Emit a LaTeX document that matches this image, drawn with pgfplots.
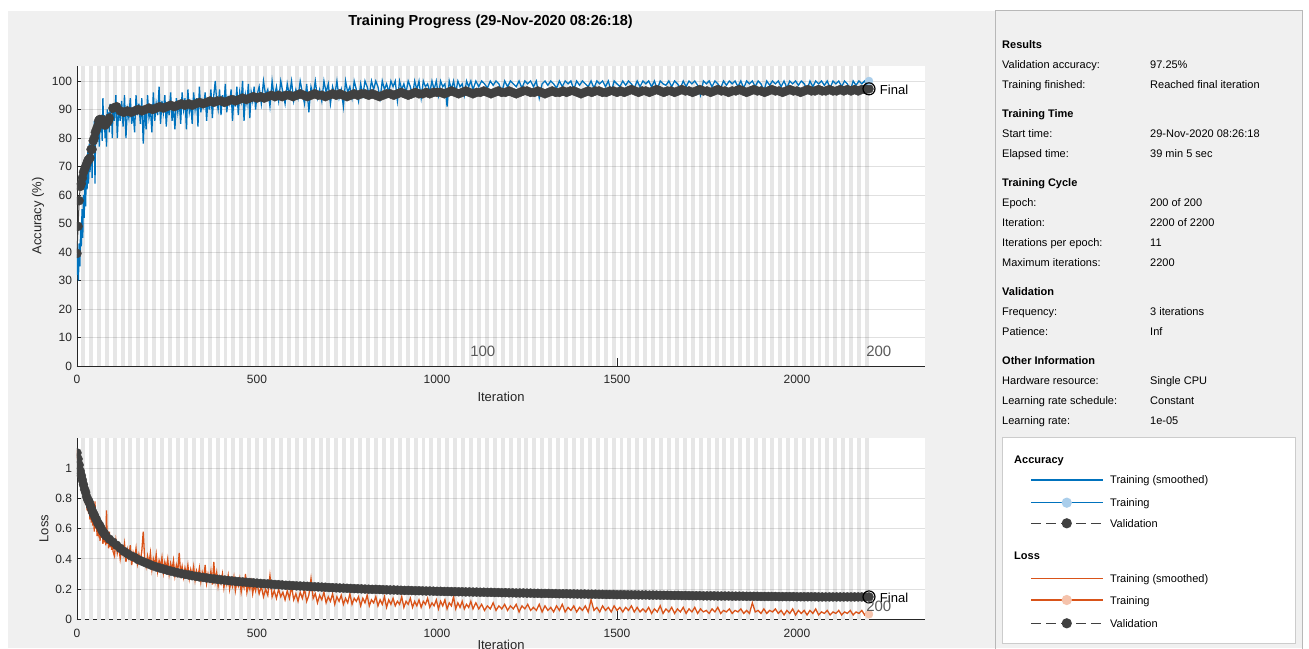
\documentclass[border=0pt]{standalone}
\usepackage{fontspec}
\setmainfont{Liberation Sans}
\usepackage{pgfplots}
\pgfplotsset{compat=1.18}
\definecolor{mblue}{RGB}{0,114,189}
\definecolor{morange}{RGB}{217,83,25}
\definecolor{vgray}{RGB}{64,64,64}
\definecolor{lblue}{RGB}{170,206,235}
\definecolor{lorange}{RGB}{245,195,172}
\definecolor{stripe}{RGB}{230,230,230}
\definecolor{panel}{RGB}{240,240,240}
\definecolor{axc}{RGB}{38,38,38}
\definecolor{epochc}{RGB}{90,90,90}
\tikzset{gridc/.style={black, opacity=0.12, line width=0.8pt}}
\pgfplotsset{
  mtl/.style={
    scale only axis, width=848pt,
    xmin=0, xmax=2355.6,
    axis x line*=bottom, axis y line*=left,
    axis line style={axc, line width=0.8pt, -},
    tick align=inside, major tick length=8pt,
    tick style={axc, line width=0.8pt},
    xtick={0,500,1000,1500,2000},
    ticklabel style={font=\fontsize{12}{14}\selectfont, text=axc},
    xticklabel style={yshift=-6pt},
    yticklabel style={xshift=-1.5pt},
    /pgf/number format/assume math mode=true,
    /pgf/number format/1000 sep={},
    axis background/.style={fill=white},
    label style={font=\fontsize{13}{15}\selectfont, text=axc},
    clip marker paths=true,
  },
}
\begin{document}
\begin{tikzpicture}[x=1pt,y=1pt]
\fill[white] (0pt,0pt) rectangle (1309pt,648pt);
\fill[panel] (8pt,0pt) rectangle (1302pt,637pt);
\draw[black!28, line width=1pt] (995pt,-2pt) -- (995pt,637pt) -- (1302pt,637pt) -- (1302pt,-2pt);
\fill[white] (1002pt,4.7pt) rectangle (1295pt,211pt);
\draw[black!20, line width=0.8pt] (1002pt,4.7pt) rectangle (1295pt,211pt);

\node[font=\fontsize{14.5}{16}\selectfont\bfseries, text=black] at (490.5pt,626pt) {Training Progress (29-Nov-2020 08:26:18)};

% ---------- Accuracy axis ----------
\begin{axis}[mtl, at={(77pt,282pt)}, anchor=south west, height=300pt,
  ymin=0, ymax=105.26, ytick={0,10,20,30,40,50,60,70,80,90,100},
  xlabel={Iteration}, ylabel={Accuracy (\%)},
  xlabel style={at={(axis description cs:0.5,-0.1033)}, anchor=center},
  ylabel style={at={(axis description cs:-0.046,0.5)}, anchor=center}]
\pgfplotsinvokeforeach{0,...,99}{
  \fill[stripe] (axis cs:{22*#1+11},0) rectangle (axis cs:{22*#1+22},105.26);
}
\pgfplotsinvokeforeach{10,20,30,40,50,60,70,80,90,100}{
  \draw[gridc] (axis cs:0,#1) -- (axis cs:2355.6,#1);
}
\node[anchor=south west, inner sep=0, text=epochc, font=\fontsize{15}{15}\selectfont] at (axis cs:1092,3.2) {100};
\node[anchor=south west, inner sep=0, text=epochc, font=\fontsize{15}{15}\selectfont] at (axis cs:2192,3.2) {200};
% training accuracy
\addplot[mblue, line width=1.3pt] coordinates {
(0,32)(2,40)(4,30)(6,43)(8,35)(10,48)(12,42)(14,55)(16,45)(18,60)(20,52)(22,65)(24,56)(26,70)(28,62)(30,75)(32,64)(34,78)(36,68)(38,72)(40,80)(42,66)(44,82)(46,75)(48,86)(50,64)(52,85)(54,78)(56,87)(58,80)(60,84)(62,77)(64,88)(66,82)(68,86)(70,79)(72,94)(74,83)(76,88)(78,80)(80,87)(82,77)(84,90)(86,84)(88,89)(90,82)(92,92)(94,85)(96,88)(98,80)(100,91)
(104,86)(108,95)(112,80)(116,91)(120,86)(124,93)(128,84)(132,95)(136,80)(140,90)(144,87)(148,94)(152,85)(156,89)(160,82)(164,95)(168,88)(172,92)(176,85)(180,94)(184,78)(188,91)(192,83)(196,95)(200,87)(204,90)(208,82)(212,96)(216,86)(220,92)(224,88)(228,98)(232,85)(236,93)(240,89)(244,95)(248,84)(252,92)(256,88)(260,96)(264,86)(268,91)(272,83)(276,94)(280,89)(284,93)(288,85)(292,96)(296,90)(300,94)(304,83)(308,97)(312,89)(316,92)(320,85)(324,96)(328,90)(332,94)(336,84)(340,98)(344,89)(348,93)(352,91)(356,96)(360,86)(364,94)(368,90)(372,97)(376,87)(380,95)(384,100)(388,93)(392,90)(396,97)(400,88)(404,95)(408,91)(412,99)(416,89)(420,94)(424,92)(428,97)(432,86)(436,95)(440,91)(444,98)(448,88)(452,96)(456,93)(460,100)(464,86)(468,95)(472,92)(476,99)(480,87)(484,96)(488,93)(492,98)(496,90)(500,95)
(506,98)(512,92)(518,100)(524,95)(530,97)(536,91)(542,100)(548,94)(554,98)(560,93)(566,100)(572,96)(578,92)(584,99)(590,95)(596,100)(602,93)(608,97)(614,94)(620,100)(626,96)(632,92)(638,99)(644,89)(650,98)(656,95)(662,100)(668,94)(674,97)(680,93)(686,100)(692,96)(698,99)(704,92)(710,98)(716,95)(722,100)(728,94)(734,97)(740,91)(746,100)(752,96)(758,98)(764,94)(770,100)(776,97)(782,93)(788,99)(794,95)(800,100)
(806,98)(812,95)(818,100)(824,97)(830,100)(836,98)(842,94)(848,100)(854,97)(860,99)(866,96)(872,100)(878,98)(884,100)(890,93)(896,100)(902,97)(908,99)(914,96)(920,100)(926,98)(932,95)(938,100)(944,97)(950,100)(956,94)(962,100)(968,98)(974,99)(980,96)(986,100)(992,97)(998,100)(1004,95)(1010,100)(1016,98)(1022,99)(1028,91)(1034,100)(1040,97)(1046,100)(1052,96)(1058,100)(1064,98)(1070,99)(1076,95)(1082,100)(1088,98)(1094,100)(1100,97)
(1108,100)(1116,98)(1124,100)(1132,99)(1140,97.5)(1148,100)(1156,98.5)(1164,100)(1172,99)(1180,96)(1188,100)(1196,98)(1204,100)(1212,99)(1220,98)(1228,100)(1236,97.5)(1244,100)(1252,99)(1260,100)(1268,98)(1276,100)(1284,94)(1292,99)(1300,100)(1308,98.5)(1316,100)(1324,99)(1332,97.5)(1340,100)(1348,98)(1356,100)(1364,99)(1372,100)(1380,97)(1388,100)(1396,98.5)(1404,100)(1412,99)(1420,98)(1428,100)(1436,97.5)(1444,100)(1452,99)(1460,100)(1468,98)(1476,100)(1484,96)(1492,100)(1500,99)(1508,98)(1516,100)(1524,98.5)(1532,100)(1540,99)(1548,97.5)(1556,100)(1564,98)(1572,100)(1580,99)(1588,100)(1596,98)(1604,100)(1612,97)(1620,100)(1628,99)(1636,98.5)(1644,100)(1652,98)(1660,100)(1668,99)(1676,97.5)(1684,100)(1692,98)(1700,100)(1708,99)(1716,100)(1724,98.5)(1732,95)(1740,100)(1748,99)(1756,100)(1764,98)(1772,100)(1780,99)(1788,97.5)(1796,100)(1804,98.5)(1812,100)(1820,99)(1828,100)(1836,98)(1844,100)(1852,97.5)(1860,100)(1868,99)(1876,100)(1884,98)(1892,100)(1900,99)(1908,96.5)(1916,100)(1924,98.5)(1932,100)(1940,99)(1948,100)(1956,98)(1964,100)(1972,97.5)(1980,100)(1988,99)(1996,100)(2004,98.5)(2012,100)(2020,99)(2028,97)(2036,100)(2044,98)(2052,100)(2060,99)(2068,100)(2076,98.5)(2084,100)(2092,97.5)(2100,100)(2108,99)(2116,100)(2124,98)(2132,100)(2140,99)(2148,96.5)(2156,100)(2164,98.5)(2172,100)(2180,99)(2188,100)(2196,98)(2200,100)
};
% validation accuracy
\addplot[vgray, line width=1pt, mark=*, mark size=4.5pt, mark options={fill=vgray, draw=vgray, line width=0.4pt}] coordinates {
(0,39.5)(3,49)(6,58)(9,63)(12,64)(15,66)(18,68)(21,69)(24,70)(27,71)(30,72)(33,72.5)(36,73)(39,76)(42,76)(45,79)(48,80)(51,82)(54,83)(57,84)(60,86)(63,86.5)(66,86)(69,86.5)(72,86)(75,85)(78,84.5)(81,85)(84,85.5)(87,86)(90,87)
(100,90.5)(110,91)(120,89.5)(130,89)(140,89.5)(150,89)(160,89.5)(170,90)(180,89.5)(190,90)(200,90.5)(210,90)(220,90.5)(230,91)(240,90.5)(250,91)(260,91.5)(270,91)(280,91.5)(290,92)(300,91.5)(310,92)(320,91.5)(330,92)(340,92.5)(350,92)(360,92.5)(370,93)(380,92.5)(390,93)(400,93)(410,92.5)(420,93)(430,93.5)(440,93)(450,93.5)(460,94)(470,93.5)(480,94)(490,94.5)(500,94)(510,94.5)(520,94)(530,94.5)(540,95)(550,94.5)(560,95)(570,94.5)(580,95)(590,95)(600,94.5)(610,95)(620,95.5)(630,95)(640,94.5)(650,95)(660,95.5)(670,95)(680,95)(690,94.5)(700,95)(710,95.5)(720,95)(730,95.5)(740,95)(750,94.5)(760,95)(770,95.5)(780,95)(790,95.5)(800,95.5)(810,95)(820,95.5)(830,95)(840,94.5)(850,95)(860,95.5)(870,95.5)(880,95)(890,95.5)(900,96)(910,95.5)(920,95)(930,95.5)(940,96)(950,95.5)(960,95.5)(970,96)(980,95.5)(990,96)(1000,96)
(1010,96)(1020,95.5)(1030,96)(1040,96.5)(1050,96)(1060,95.5)(1070,96)(1080,96.5)(1090,96)(1100,95.5)(1110,96)(1120,96)(1130,96.5)(1140,96)(1150,95.5)(1160,96)(1170,96.5)(1180,96)(1190,96)(1200,96.5)(1210,96)(1220,95.5)(1230,96)(1240,96.5)(1250,96.5)(1260,96)(1270,96)(1280,96.5)(1290,96)(1300,95.5)(1310,96)(1320,96.5)(1330,96)(1340,96)(1350,96.5)(1360,96)(1370,96.5)(1380,96.5)(1390,96)(1400,95.5)(1410,96)(1420,96.5)(1430,96)(1440,96.5)(1450,96.5)(1460,96)(1470,96)(1480,96.5)(1490,96.5)(1500,96)(1510,96.5)(1520,96)(1530,96.5)(1540,97)(1550,96.5)(1560,96)(1570,96.5)(1580,96.5)(1590,96)(1600,96.5)(1610,97)(1620,96.5)(1630,96)(1640,96.5)(1650,96.5)(1660,96)(1670,96.5)(1680,97)(1690,96.5)(1700,96.5)(1710,96)(1720,96.5)(1730,97)(1740,96.5)(1750,96.5)(1760,96)(1770,96.5)(1780,97)(1790,96.5)(1800,96.5)(1810,96)(1820,96.5)(1830,96.5)(1840,97)(1850,96.5)(1860,96)(1870,96.5)(1880,97)(1890,96.5)(1900,96.5)(1910,96)(1920,96.5)(1930,97)(1940,96.5)(1950,96.5)(1960,96)(1970,96.5)(1980,97)(1990,96.5)(2000,96.5)(2010,96)(2020,96.5)(2030,97)(2040,96.5)(2050,96.5)(2060,97)(2070,96.5)(2080,96.5)(2090,97)(2100,96.5)(2110,96.5)(2120,97)(2130,96.5)(2140,97)(2150,96.5)(2160,97)(2170,96.5)(2180,97)(2190,97)(2200,97.25)
};
\addplot[only marks, mark=*, mark size=4pt, mark options={fill=lblue, draw=lblue}] coordinates {(2200,100)};
\addplot[only marks, mark=o, mark size=6pt, mark options={draw=black, line width=1.2pt}] coordinates {(2200,97.25)};
\node[anchor=west, inner sep=0, font=\fontsize{13}{15}\selectfont, text=black] at (axis cs:2230,97.0) {Final};
\end{axis}

% ---------- Loss axis ----------
\begin{axis}[mtl, at={(77pt,28.5pt)}, anchor=south west, height=181.8pt,
  ymin=0, ymax=1.2, ytick={0,0.2,0.4,0.6,0.8,1},
  xlabel={Iteration}, ylabel={Loss},
  xlabel style={at={(axis description cs:0.5,-0.14)}, anchor=center},
  ylabel style={at={(axis description cs:-0.0389,0.5)}, anchor=center}]
\pgfplotsinvokeforeach{0,...,99}{
  \fill[stripe] (axis cs:{22*#1+11},0) rectangle (axis cs:{22*#1+22},1.2);
}
\pgfplotsinvokeforeach{0.2,0.4,0.6,0.8,1}{
  \draw[gridc] (axis cs:0,#1) -- (axis cs:2355.6,#1);
}
% training loss
\addplot[morange, line width=1.3pt] coordinates {
(0,1.12)(2,1.05)(4,1.1)(6,0.98)(8,1.02)(10,0.95)(12,0.92)(14,0.96)(16,0.85)(18,0.88)(20,0.8)(22,0.84)(24,0.76)(26,0.8)(28,0.72)(30,0.78)(32,0.7)(34,0.74)(36,0.66)(38,0.72)(40,0.64)(42,0.7)(44,0.62)(46,0.67)(48,0.58)(50,0.78)(52,0.6)(54,0.63)(56,0.55)(58,0.62)(60,0.57)(62,0.6)(64,0.52)(66,0.58)(68,0.54)(70,0.62)(72,0.5)(74,0.57)(76,0.51)(78,0.55)(80,0.49)(82,0.72)(84,0.5)(86,0.55)(88,0.47)(90,0.58)(92,0.48)(94,0.52)(96,0.46)(98,0.54)(100,0.45)
(104,0.42)(108,0.52)(112,0.44)(116,0.49)(120,0.4)(124,0.47)(128,0.43)(132,0.5)(136,0.38)(140,0.46)(144,0.41)(148,0.49)(152,0.36)(156,0.44)(160,0.4)(164,0.47)(168,0.37)(172,0.43)(176,0.39)(180,0.45)(184,0.58)(188,0.4)(192,0.35)(196,0.42)(200,0.37)(204,0.44)(208,0.33)(212,0.4)(216,0.36)(220,0.43)(224,0.32)(228,0.39)(232,0.35)(236,0.41)(240,0.31)(244,0.38)(248,0.34)(252,0.4)(256,0.3)(260,0.37)(264,0.33)(268,0.39)(272,0.29)(276,0.36)(280,0.32)(284,0.44)(288,0.3)(292,0.35)(296,0.28)(300,0.34)(304,0.3)(308,0.36)(312,0.27)(316,0.33)(320,0.29)(324,0.35)(328,0.26)(332,0.32)(336,0.28)(340,0.34)(344,0.25)(348,0.31)(352,0.27)(356,0.36)(360,0.24)(364,0.3)(368,0.26)(372,0.32)(376,0.23)(380,0.38)(384,0.25)(388,0.31)(392,0.22)(396,0.28)(400,0.24)(404,0.3)(408,0.21)(412,0.27)(416,0.23)(420,0.29)(424,0.2)(428,0.26)(432,0.22)(436,0.28)(440,0.19)(444,0.25)(448,0.22)(452,0.27)(456,0.18)(460,0.24)(464,0.21)(468,0.3)(472,0.18)(476,0.23)(480,0.2)(484,0.25)(488,0.17)(492,0.23)(496,0.19)(500,0.24)
(506,0.17)(512,0.22)(518,0.15)(524,0.2)(530,0.16)(536,0.29)(542,0.15)(548,0.19)(554,0.14)(560,0.2)(566,0.15)(572,0.18)(578,0.13)(584,0.19)(590,0.14)(596,0.22)(602,0.13)(608,0.17)(614,0.12)(620,0.18)(626,0.14)(632,0.2)(638,0.12)(644,0.16)(650,0.27)(656,0.14)(662,0.17)(668,0.11)(674,0.16)(680,0.13)(686,0.18)(692,0.11)(698,0.15)(704,0.12)(710,0.17)(716,0.1)(722,0.15)(728,0.12)(734,0.16)(740,0.1)(746,0.14)(752,0.11)(758,0.17)(764,0.1)(770,0.14)(776,0.12)(782,0.15)(788,0.09)(794,0.14)(800,0.11)(806,0.16)(812,0.09)(818,0.13)(824,0.11)(830,0.15)(836,0.09)(842,0.13)(848,0.1)(854,0.15)(860,0.08)(866,0.13)(872,0.1)(878,0.14)(884,0.09)(890,0.12)(896,0.1)(902,0.15)(908,0.08)(914,0.12)(920,0.1)(926,0.14)(932,0.08)(938,0.12)(944,0.09)(950,0.13)(956,0.08)(962,0.12)(968,0.1)(974,0.14)(980,0.08)(986,0.11)(992,0.09)(998,0.13)(1004,0.07)(1010,0.12)(1016,0.09)(1022,0.13)(1028,0.07)(1034,0.11)(1040,0.09)(1046,0.15)(1052,0.07)(1058,0.11)(1064,0.08)(1070,0.12)(1076,0.07)(1082,0.1)(1088,0.08)(1094,0.12)(1100,0.07)
(1108,0.11)(1116,0.07)(1124,0.1)(1132,0.06)(1140,0.09)(1148,0.07)(1156,0.11)(1164,0.06)(1172,0.09)(1180,0.07)(1188,0.1)(1196,0.06)(1204,0.09)(1212,0.07)(1220,0.1)(1228,0.05)(1236,0.09)(1244,0.07)(1252,0.1)(1260,0.06)(1268,0.08)(1276,0.06)(1284,0.1)(1292,0.05)(1300,0.09)(1308,0.06)(1316,0.08)(1324,0.05)(1332,0.09)(1340,0.06)(1348,0.1)(1356,0.05)(1364,0.08)(1372,0.06)(1380,0.09)(1388,0.05)(1396,0.08)(1404,0.06)(1412,0.09)(1420,0.05)(1428,0.13)(1436,0.06)(1444,0.08)(1452,0.05)(1460,0.09)(1468,0.06)(1476,0.08)(1484,0.05)(1492,0.09)(1500,0.06)(1508,0.08)(1516,0.05)(1524,0.08)(1532,0.06)(1540,0.09)(1548,0.05)(1556,0.08)(1564,0.05)(1572,0.07)(1580,0.05)(1588,0.08)(1596,0.04)(1604,0.07)(1612,0.05)(1620,0.09)(1628,0.04)(1636,0.07)(1644,0.05)(1652,0.08)(1660,0.04)(1668,0.07)(1676,0.05)(1684,0.08)(1692,0.04)(1700,0.07)(1708,0.05)(1716,0.08)(1724,0.04)(1732,0.07)(1740,0.05)(1748,0.06)(1756,0.04)(1764,0.07)(1772,0.05)(1780,0.08)(1788,0.04)(1796,0.06)(1804,0.05)(1812,0.07)(1820,0.04)(1828,0.06)(1836,0.05)(1844,0.07)(1852,0.04)(1860,0.06)(1868,0.04)(1876,0.11)(1884,0.05)(1892,0.06)(1900,0.04)(1908,0.07)(1916,0.04)(1924,0.06)(1932,0.05)(1940,0.07)(1948,0.04)(1956,0.06)(1964,0.03)(1972,0.06)(1980,0.04)(1988,0.07)(1996,0.03)(2004,0.06)(2012,0.04)(2020,0.06)(2028,0.03)(2036,0.06)(2044,0.04)(2052,0.07)(2060,0.03)(2068,0.05)(2076,0.04)(2084,0.06)(2092,0.03)(2100,0.05)(2108,0.04)(2116,0.06)(2124,0.03)(2132,0.05)(2140,0.04)(2148,0.06)(2156,0.03)(2164,0.05)(2172,0.04)(2180,0.06)(2188,0.03)(2196,0.05)(2200,0.035)
};
% validation loss
\addplot[vgray, line width=1pt, mark=*, mark size=4.5pt, mark options={fill=vgray, draw=vgray, line width=0.4pt}] coordinates {
(0,1.1)(3,1.06)(6,1.02)(9,0.98)(12,0.95)(15,0.92)(18,0.89)(21,0.86)(24,0.84)(27,0.81)(30,0.79)(33,0.78)(36,0.76)(39,0.74)(42,0.72)(45,0.7)(48,0.69)(51,0.67)(54,0.66)(57,0.64)(60,0.63)(63,0.62)(66,0.605)(69,0.59)(72,0.58)(75,0.57)(78,0.56)(81,0.55)
(90,0.53)(100,0.51)(110,0.49)(120,0.47)(130,0.45)(140,0.435)(150,0.42)(160,0.41)(170,0.395)(180,0.385)(190,0.375)(200,0.365)(210,0.355)(220,0.347)(230,0.34)(240,0.333)(250,0.326)(260,0.32)(270,0.314)(280,0.308)(290,0.303)(300,0.298)(310,0.294)(320,0.289)(330,0.285)(340,0.281)(350,0.278)(360,0.274)(370,0.271)(380,0.268)(390,0.265)(400,0.262)(410,0.26)(420,0.257)(430,0.255)(440,0.252)(450,0.25)(460,0.248)(470,0.246)(480,0.244)(490,0.242)(500,0.24)
(510,0.238)(520,0.236)(530,0.235)(540,0.233)(550,0.231)(560,0.23)(570,0.228)(580,0.226)(590,0.225)(600,0.224)(610,0.222)(620,0.221)(630,0.22)(640,0.219)(650,0.217)(660,0.216)(670,0.215)(680,0.214)(690,0.213)(700,0.211)(710,0.21)(720,0.209)(730,0.208)(740,0.207)(750,0.206)(760,0.205)(770,0.204)(780,0.203)(790,0.202)(800,0.201)(810,0.2)(820,0.199)(830,0.199)(840,0.198)(850,0.197)(860,0.196)(870,0.195)(880,0.195)(890,0.194)(900,0.193)(910,0.192)(920,0.192)(930,0.191)(940,0.19)(950,0.19)(960,0.189)(970,0.188)(980,0.188)(990,0.187)(1000,0.186)
(1010,0.186)(1020,0.185)(1030,0.185)(1040,0.184)(1050,0.184)(1060,0.183)(1070,0.183)(1080,0.182)(1090,0.182)(1100,0.181)(1110,0.181)(1120,0.18)(1130,0.18)(1140,0.179)(1150,0.179)(1160,0.178)(1170,0.178)(1180,0.177)(1190,0.177)(1200,0.176)(1210,0.176)(1220,0.175)(1230,0.175)(1240,0.175)(1250,0.174)(1260,0.174)(1270,0.173)(1280,0.173)(1290,0.172)(1300,0.172)(1310,0.172)(1320,0.171)(1330,0.171)(1340,0.17)(1350,0.17)(1360,0.17)(1370,0.169)(1380,0.169)(1390,0.168)(1400,0.168)(1410,0.168)(1420,0.167)(1430,0.167)(1440,0.167)(1450,0.166)(1460,0.166)(1470,0.165)(1480,0.165)(1490,0.165)(1500,0.164)
(1510,0.164)(1520,0.164)(1530,0.163)(1540,0.163)(1550,0.163)(1560,0.162)(1570,0.162)(1580,0.162)(1590,0.161)(1600,0.161)(1610,0.161)(1620,0.16)(1630,0.16)(1640,0.16)(1650,0.159)(1660,0.159)(1670,0.159)(1680,0.158)(1690,0.158)(1700,0.158)(1710,0.157)(1720,0.157)(1730,0.157)(1740,0.156)(1750,0.156)(1760,0.156)(1770,0.156)(1780,0.155)(1790,0.155)(1800,0.155)(1810,0.155)(1820,0.154)(1830,0.154)(1840,0.154)(1850,0.154)(1860,0.153)(1870,0.153)(1880,0.153)(1890,0.153)(1900,0.152)(1910,0.152)(1920,0.152)(1930,0.152)(1940,0.152)(1950,0.151)(1960,0.151)(1970,0.151)(1980,0.151)(1990,0.151)(2000,0.15)(2010,0.15)(2020,0.15)(2030,0.15)(2040,0.15)(2050,0.15)(2060,0.149)(2070,0.149)(2080,0.149)(2090,0.149)(2100,0.149)(2110,0.149)(2120,0.149)(2130,0.149)(2140,0.149)(2150,0.149)(2160,0.149)(2170,0.149)(2180,0.149)(2190,0.149)(2200,0.149)
};
\addplot[only marks, mark=*, mark size=4pt, mark options={fill=lorange, draw=lorange}] coordinates {(2200,0.035)};
\addplot[only marks, mark=o, mark size=6pt, mark options={draw=black, line width=1.2pt}] coordinates {(2200,0.149)};
\node[anchor=west, inner sep=0, font=\fontsize{13}{15}\selectfont, text=black] at (axis cs:2230,0.145) {Final};
\node[anchor=south west, inner sep=0, text=epochc, font=\fontsize{15}{15}\selectfont] at (axis cs:2192,0.049) {200};
\end{axis}

% ---------- Legend symbols ----------
\begin{axis}[at={(1031pt,0pt)}, anchor=south west, scale only axis, width=71.5pt, height=648pt,
  xmin=0, xmax=71.5, ymin=0, ymax=648, hide axis, clip=false]
\addplot[mblue, line width=1.2pt] coordinates {(0,168) (71.5,168)};
\addplot[mblue, line width=1.2pt, mark=*, mark size=4.5pt, mark options={fill=lblue, draw=lblue}, mark indices={2}] coordinates {(0,145.3) (35.75,145.3) (71.5,145.3)};
\addplot[vgray, line width=1.2pt, dash pattern=on 10pt off 5pt, mark=*, mark size=4.5pt, mark options={fill=vgray, draw=vgray, solid}, mark indices={2}] coordinates {(0,124.7) (35.75,124.7) (71.5,124.7)};
\addplot[morange, line width=1.2pt] coordinates {(0,69.7) (71.5,69.7)};
\addplot[morange, line width=1.2pt, mark=*, mark size=4.5pt, mark options={fill=lorange, draw=lorange}, mark indices={2}] coordinates {(0,48) (35.75,48) (71.5,48)};
\addplot[vgray, line width=1.2pt, dash pattern=on 10pt off 5pt, mark=*, mark size=4.5pt, mark options={fill=vgray, draw=vgray, solid}, mark indices={2}] coordinates {(0,24.7) (35.75,24.7) (71.5,24.7)};
\end{axis}

% ---------- Right panel text ----------
\begin{scope}[every node/.style={inner sep=0, anchor=base west, font=\fontsize{11}{13}\selectfont, text=black}]
\node[font=\fontsize{11}{13}\selectfont\bfseries] at (1002pt,599pt) {Results};
\node at (1002pt,579pt) {Validation accuracy:};   \node at (1150pt,579pt) {97.25\%};
\node at (1002pt,559pt) {Training finished:};     \node at (1150pt,559pt) {Reached final iteration};
\node[font=\fontsize{11}{13}\selectfont\bfseries] at (1002pt,530pt) {Training Time};
\node at (1002pt,510pt) {Start time:};            \node at (1150pt,510pt) {29-Nov-2020 08:26:18};
\node at (1002pt,490pt) {Elapsed time:};          \node at (1150pt,490pt) {39 min 5 sec};
\node[font=\fontsize{11}{13}\selectfont\bfseries] at (1002pt,461pt) {Training Cycle};
\node at (1002pt,441pt) {Epoch:};                 \node at (1150pt,441pt) {200 of 200};
\node at (1002pt,421pt) {Iteration:};             \node at (1150pt,421pt) {2200 of 2200};
\node at (1002pt,401pt) {Iterations per epoch:};  \node at (1150pt,401pt) {11};
\node at (1002pt,381pt) {Maximum iterations:};    \node at (1150pt,381pt) {2200};
\node[font=\fontsize{11}{13}\selectfont\bfseries] at (1002pt,352pt) {Validation};
\node at (1002pt,332pt) {Frequency:};             \node at (1150pt,332pt) {3 iterations};
\node at (1002pt,312pt) {Patience:};              \node at (1150pt,312pt) {Inf};
\node[font=\fontsize{11}{13}\selectfont\bfseries] at (1002pt,283pt) {Other Information};
\node at (1002pt,263pt) {Hardware resource:};     \node at (1150pt,263pt) {Single CPU};
\node at (1002pt,243pt) {Learning rate schedule:};\node at (1150pt,243pt) {Constant};
\node at (1002pt,223pt) {Learning rate:};         \node at (1150pt,223pt) {1e-05};
\node[font=\fontsize{11}{13}\selectfont\bfseries] at (1014pt,184.5pt) {Accuracy};
\node at (1110pt,164pt) {Training (smoothed)};
\node at (1110pt,141.3pt) {Training};
\node at (1110pt,120.7pt) {Validation};
\node[font=\fontsize{11}{13}\selectfont\bfseries] at (1014pt,88pt) {Loss};
\node at (1110pt,65.7pt) {Training (smoothed)};
\node at (1110pt,44pt) {Training};
\node at (1110pt,20.7pt) {Validation};
\end{scope}

\pgfresetboundingbox
\useasboundingbox (0pt,0pt) rectangle (1309pt,648pt);
\end{tikzpicture}
\end{document}
